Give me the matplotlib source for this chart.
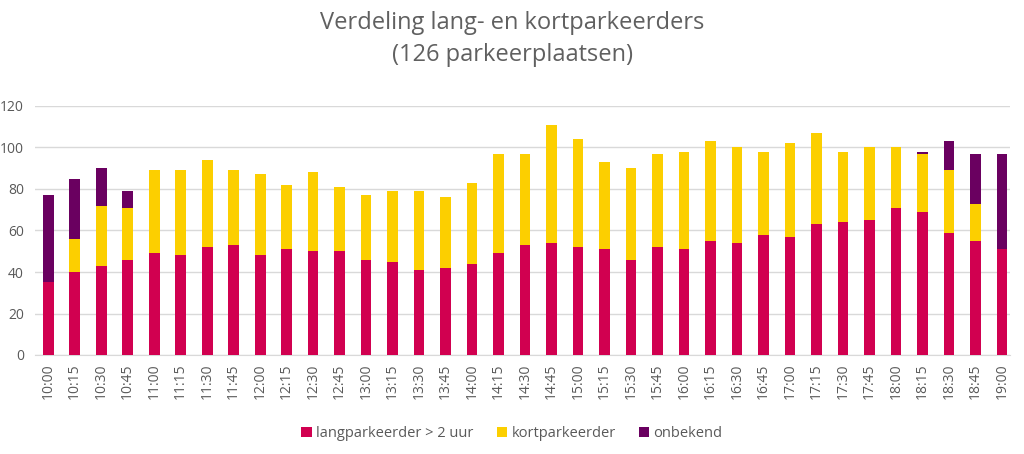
import matplotlib
matplotlib.use("Agg")
import matplotlib.pyplot as plt
import numpy as np

times = ["10:00","10:15","10:30","10:45","11:00","11:15","11:30","11:45","12:00","12:15",
         "12:30","12:45","13:00","13:15","13:30","13:45","14:00","14:15","14:30","14:45",
         "15:00","15:15","15:30","15:45","16:00","16:15","16:30","16:45","17:00","17:15",
         "17:30","17:45","18:00","18:15","18:30","18:45","19:00"]
lang = [35, 40, 43, 46, 49, 48, 52, 53, 48, 51, 50, 50, 46, 45, 41, 42, 44, 49, 53, 54,
        52, 51, 46, 52, 51, 55, 54, 58, 57, 63, 64, 65, 71, 69, 59, 55, 51]
kort = [0, 16, 29, 25, 40, 41, 42, 36, 39, 31, 38, 31, 31, 34, 38, 34, 39, 48, 44, 57,
        52, 42, 44, 45, 47, 48, 46, 40, 45, 44, 34, 35, 29, 28, 30, 18, 0]
onbekend = [42, 29, 18, 8, 0, 0, 0, 0, 0, 0, 0, 0, 0, 0, 0, 0, 0, 0, 0, 0,
            0, 0, 0, 0, 0, 0, 0, 0, 0, 0, 0, 0, 0, 1, 14, 24, 46]

plt.rcParams['font.family'] = ['Open Sans', 'DejaVu Sans']
grey = "#595959"

fig = plt.figure(figsize=(10.24, 4.54), dpi=100)
ax = fig.add_axes([35/1024, (454-355)/454, 975/1024, (355-106)/454])

x = np.arange(len(times))
lang_a = np.array(lang); kort_a = np.array(kort); onb_a = np.array(onbekend)
w = 0.4
ax.bar(x, lang_a, w, color="#D10050", label="langparkeerder > 2 uur", zorder=3)
ax.bar(x, kort_a, w, bottom=lang_a, color="#FCCF00", label="kortparkeerder", zorder=3)
ax.bar(x, onb_a, w, bottom=lang_a + kort_a, color="#6A0060", label="onbekend", zorder=3)

ax.set_ylim(0, 120)
ax.set_yticks(range(0, 121, 20))
ax.set_xlim(-0.5, 36.3)
ax.set_xticks(x)
ax.set_xticklabels(times, rotation=90, color=grey, fontsize=10)
ax.tick_params(axis='y', colors=grey, labelsize=10, length=0, pad=8)
ax.tick_params(axis='x', length=0, pad=6)
ax.grid(axis='y', color="#D9D9D9", linewidth=1, zorder=0)
for s in ["top", "right", "left"]:
    ax.spines[s].set_visible(False)
ax.spines["bottom"].set_color("#D9D9D9")

fig.text(0.5, 0.975, "Verdeling lang- en kortparkeerders\n(126 parkeerplaatsen)",
         ha="center", va="top", fontsize=17, color="#606060", linespacing=1.45)

leg = fig.legend(loc="center", bbox_to_anchor=(0.5, 0.045), ncol=3, frameon=False,
                 fontsize=10.5, handlelength=0.7, handleheight=0.7, handletextpad=0.3,
                 columnspacing=1.6)
for t in leg.get_texts():
    t.set_color(grey)

fig.savefig("out.png", dpi=100)
